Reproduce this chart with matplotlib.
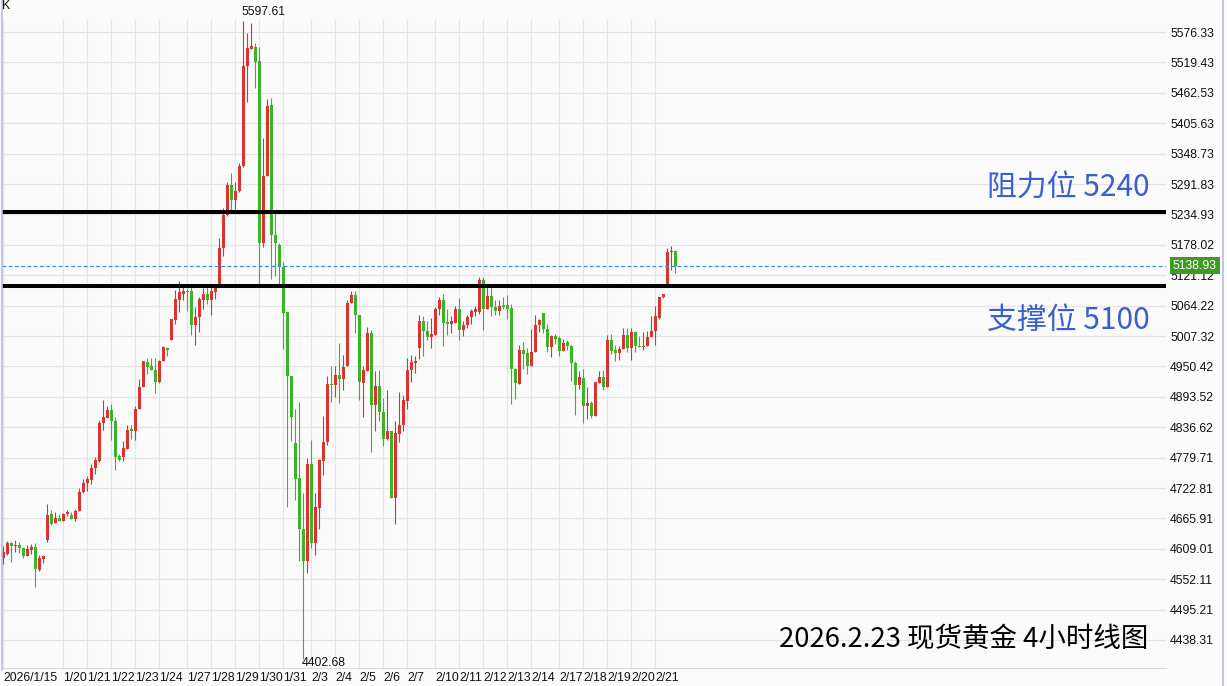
import matplotlib.pyplot as plt
import numpy as np
from matplotlib.lines import Line2D

plt.rcParams['font.family'] = ['Liberation Sans', 'Noto Sans CJK SC']

# 4-hour candles, spot gold
opens = [4591, 4600, 4619, 4614, 4617, 4610, 4595, 4606, 4613, 4570,
         4590, 4625, 4674, 4657, 4666, 4661, 4674, 4673, 4664, 4679,
         4715, 4732, 4737, 4760, 4774, 4844, 4853, 4868, 4849, 4782,
         4780, 4795, 4834, 4830, 4870, 4911, 4959, 4952, 4944, 4922,
         4960, 4984, 5000, 5038, 5075, 5086, 5092, 5092, 5028, 5042,
         5075, 5086, 5075, 5090, 5099, 5172, 5234, 5290, 5261, 5278,
         5325, 5512, 5545, 5549, 5522, 5182, 5306, 5440, 5197, 5178,
         5136, 5052, 4933, 4807, 4742, 4646, 4586, 4767, 4619, 4685,
         4773, 4808, 4918, 4916, 4935, 4926, 4951, 5069, 5085, 5046,
         4919, 4941, 5013, 4879, 4914, 4865, 4815, 4829, 4704, 4823,
         4840, 4886, 4943, 4956, 4985, 5036, 5017, 5005, 5010, 5057,
         5075, 5033, 5029, 5032, 5057, 5018, 5027, 5042, 5053, 5053,
         5113, 5058, 5083, 5062, 5055, 5065, 5065, 5060, 4946, 4918,
         4982, 4976, 4952, 4978, 5027, 5051, 5021, 4986, 5008, 5004,
         4979, 4997, 4989, 4957, 4916, 4929, 4877, 4881, 4857, 4920,
         4931, 4911, 4999, 4982, 4975, 4983, 5010, 4984, 5014, 4988,
         4986, 4988, 5006, 5016, 5041, 5080, 5103, 5164, 5167]
closes = [4603, 4619, 4614, 4617, 4610, 4595, 4608, 4613, 4571, 4591,
          4595, 4673, 4656, 4666, 4661, 4674, 4677, 4664, 4680, 4716,
          4732, 4739, 4760, 4776, 4845, 4856, 4868, 4848, 4780, 4776,
          4797, 4832, 4830, 4871, 4912, 4960, 4950, 4943, 4922, 4961,
          4986, 4982, 5040, 5077, 5090, 5092, 5090, 5027, 5043, 5077,
          5086, 5075, 5092, 5100, 5172, 5234, 5290, 5261, 5279, 5326,
          5513, 5547, 5550, 5521, 5182, 5306, 5438, 5197, 5181, 5137,
          5050, 4932, 4855, 4740, 4646, 4586, 4767, 4619, 4687, 4775,
          4809, 4918, 4916, 4935, 4926, 4949, 5070, 5085, 5046, 4921,
          4943, 5013, 4879, 4914, 4866, 4815, 4829, 4704, 4825, 4841,
          4888, 4944, 4958, 4961, 5036, 5016, 5005, 5012, 5058, 5075,
          5032, 5029, 5035, 5057, 5018, 5028, 5042, 5055, 5057, 5113,
          5058, 5083, 5062, 5055, 5064, 5062, 5058, 4946, 4919, 4982,
          4973, 4952, 4978, 5027, 5038, 5020, 4986, 5008, 5002, 4979,
          4995, 4989, 4956, 4916, 4930, 4877, 4881, 4858, 4921, 4931,
          4911, 4999, 4980, 4975, 4983, 5010, 4984, 5014, 4988, 4986,
          4988, 5005, 5017, 5044, 5080, 5086, 5165, 5166, 5138.93]
highs = [4614, 4623, 4621, 4625, 4621, 4612, 4617, 4618, 4620, 4598,
         4598, 4692, 4681, 4678, 4674, 4676, 4681, 4677, 4683, 4723,
         4739, 4745, 4767, 4781, 4851, 4888, 4877, 4880, 4856, 4787,
         4810, 4840, 4840, 4876, 4926, 4961, 4967, 4967, 4967, 4963,
         4989, 4987, 5040, 5094, 5111, 5103, 5098, 5105, 5062, 5081,
         5098, 5100, 5100, 5103, 5191, 5247, 5295, 5313, 5296, 5331,
         5597.61, 5575, 5594, 5556, 5549, 5378, 5450, 5452, 5237, 5182,
         5146, 5052, 4933, 4871, 4884, 4714, 4779, 4813, 4714, 4777,
         4857, 4933, 4951, 4951, 4995, 4972, 5075, 5091, 5091, 5046,
         4951, 5025, 5019, 4941, 4944, 4891, 4907, 4829, 4848, 4903,
         4896, 4966, 4972, 4970, 5047, 5045, 5036, 5041, 5062, 5081,
         5086, 5057, 5045, 5063, 5078, 5035, 5047, 5058, 5063, 5117,
         5118, 5099, 5099, 5075, 5075, 5081, 5085, 5068, 4948, 4991,
         4997, 4985, 5021, 5047, 5040, 5051, 5030, 5010, 5012, 5008,
         5002, 5000, 4991, 4961, 4941, 4946, 4911, 4885, 4921, 4942,
         4944, 5009, 5012, 4990, 4988, 5022, 5022, 5022, 5016, 5008,
         5014, 5016, 5044, 5064, 5081, 5086, 5172, 5176, 5169]
lows = [4581, 4598, 4584, 4603, 4602, 4591, 4595, 4599, 4537, 4568,
        4582, 4621, 4654, 4657, 4661, 4661, 4670, 4664, 4661, 4679,
        4714, 4717, 4730, 4749, 4771, 4832, 4853, 4813, 4757, 4773,
        4773, 4795, 4815, 4812, 4870, 4911, 4937, 4943, 4900, 4920,
        4960, 4970, 5000, 5030, 5053, 5075, 5055, 5010, 4991, 5014,
        5058, 5068, 5047, 5077, 5099, 5158, 5232, 5244, 5244, 5276,
        5323, 5446, 5545, 5472, 5103, 5173, 5306, 5114, 5119, 5100,
        4983, 4688, 4810, 4700, 4586, 4402.68, 4564, 4611, 4598, 4646,
        4747, 4803, 4884, 4893, 4882, 4907, 4951, 5069, 5013, 4888,
        4856, 4941, 4790, 4829, 4849, 4801, 4813, 4704, 4656, 4808,
        4830, 4871, 4922, 4938, 4965, 4970, 4999, 4984, 5010, 5047,
        4988, 5010, 5013, 5032, 5000, 5007, 5022, 5030, 5044, 5048,
        5019, 5058, 5044, 5046, 5047, 5058, 5040, 4880, 4890, 4918,
        4946, 4936, 4952, 4978, 5014, 5013, 4977, 4968, 4993, 4969,
        4979, 4982, 4924, 4860, 4909, 4845, 4852, 4854, 4857, 4920,
        4907, 4911, 4974, 4961, 4962, 4983, 4978, 4963, 4977, 4986,
        4982, 4988, 5006, 4991, 5040, 5079, 5103, 5130, 5126]

date_labels = ['2026/1/15', '1/20', '1/21', '1/22', '1/23', '1/24', '1/27', '1/28', '1/29',
               '1/30', '1/31', '2/3', '2/4', '2/5', '2/6', '2/7', '2/10', '2/11', '2/12',
               '2/13', '2/14', '2/17', '2/18', '2/19', '2/20', '2/21']
date_idx = [0, 15, 21, 27, 33, 39, 46, 52, 58, 64, 70, 77, 83, 89, 95, 101, 108, 114, 120,
            126, 132, 139, 145, 151, 157, 163]

price_ticks = [4438.31, 4495.21, 4552.11, 4609.01, 4665.91, 4722.81, 4779.71, 4836.62,
               4893.52, 4950.42, 5007.32, 5064.22, 5121.12, 5178.02, 5234.93, 5291.83,
               5348.73, 5405.63, 5462.53, 5519.43, 5576.33]

resistance = 5240
support = 5100

o = np.array(opens, dtype=float)
c = np.array(closes, dtype=float)
h = np.array(highs, dtype=float)
l = np.array(lows, dtype=float)
x = np.arange(len(o))

RED = '#dc3232'
GREEN = '#3cb42a'
colors = np.where(c >= o, RED, GREEN)
FS = 8.8

W, H = 1227, 686
fig = plt.figure(figsize=(W / 100, H / 100), dpi=100)
fig.patch.set_facecolor('#fbfbfb')
ax = fig.add_axes([2 / W, 18 / H, 1164 / W, 648 / H])
ax.set_facecolor('#fbfbfb')
ax.set_xlim(-0.325, 290.7)
ax.set_ylim(4385.9, 5598.8)

# grid
for p in price_ticks:
    ax.axhline(p, color='#e4e4e4', lw=0.9, zorder=0)
for i in date_idx:
    ax.axvline(i, color='#e4e4e4', lw=0.9, zorder=0)

# candles
ax.vlines(x, l, h, colors=colors, lw=0.8, zorder=2)
body = np.maximum(np.abs(c - o), 1.9)
ax.bar(x, body, bottom=np.minimum(o, c), width=0.72, color=colors, lw=0, zorder=3)

# support / resistance lines
ax.axhline(resistance, color='black', lw=2.9, zorder=4)
ax.axhline(support, color='black', lw=2.9, zorder=4)
ax.axhline(c[-1], color='#3d8af7', lw=0.9, ls=(0, (3, 2)), zorder=4)

ax.text(0.9863, 0.742, f'阻力位 {resistance}', transform=ax.transAxes, ha='right', va='center',
        fontsize=21.5, color='#3b5fcf', family=['Noto Sans CJK SC'])
ax.text(0.9863, 0.536, f'支撑位 {support}', transform=ax.transAxes, ha='right', va='center',
        fontsize=21.5, color='#3b5fcf', family=['Noto Sans CJK SC'])
ax.text(0.9845, 0.045, '2026.2.23 现货黄金 4小时线图', transform=ax.transAxes, ha='right',
        va='center', fontsize=19.8, color='black', family=['Noto Sans CJK SC'])

# high / low labels
imax = int(np.argmax(h))
imin = int(np.argmin(l))
ax.annotate(f'{h[imax]:.2f}', xy=(imax, h[imax]), xytext=(-1, 6), textcoords='offset points',
            ha='left', va='center', fontsize=FS, color='#111111', annotation_clip=False)
ax.annotate(f'{l[imin]:.2f}', xy=(imin, l[imin]), xytext=(-1, -2.5), textcoords='offset points',
            ha='left', va='center', fontsize=FS, color='#111111', annotation_clip=False)

# last price tag
ax.text(1.006, c[-1], f'{c[-1]:.2f}', transform=ax.get_yaxis_transform(), ha='left', va='center',
        fontsize=FS, color='white', zorder=10, clip_on=False,
        bbox=dict(boxstyle='square,pad=0.22', fc='#3e9a22', ec='none'))

# axes
ax.yaxis.tick_right()
ax.set_yticks(price_ticks, [f'{p:.2f}' for p in price_ticks])
ax.set_xticks(date_idx, date_labels)
for t in ax.get_xticklabels():
    t.set_ha('left')
ax.tick_params(axis='y', length=0, pad=3, labelsize=FS, labelcolor='#111111')
ax.tick_params(axis='x', length=0, pad=3, labelsize=FS, labelcolor='#111111')
for s in ['top', 'right', 'left']:
    ax.spines[s].set_visible(False)
ax.spines['bottom'].set_color('#dcdcdc')
ax.spines['bottom'].set_linewidth(0.8)

fig.text(2 / W, 1 - 6 / H, 'K', ha='left', va='center', fontsize=9, color='#111111')
fig.add_artist(Line2D([1.5 / W, 1.5 / W], [16 / H, 1], color='#b4bcf0', lw=1.2))
fig.add_artist(Line2D([1222.5 / W, 1222.5 / W], [0, 1], color='#b4bcf0', lw=1.2))

fig.savefig('out.png', dpi=100, facecolor=fig.get_facecolor())
